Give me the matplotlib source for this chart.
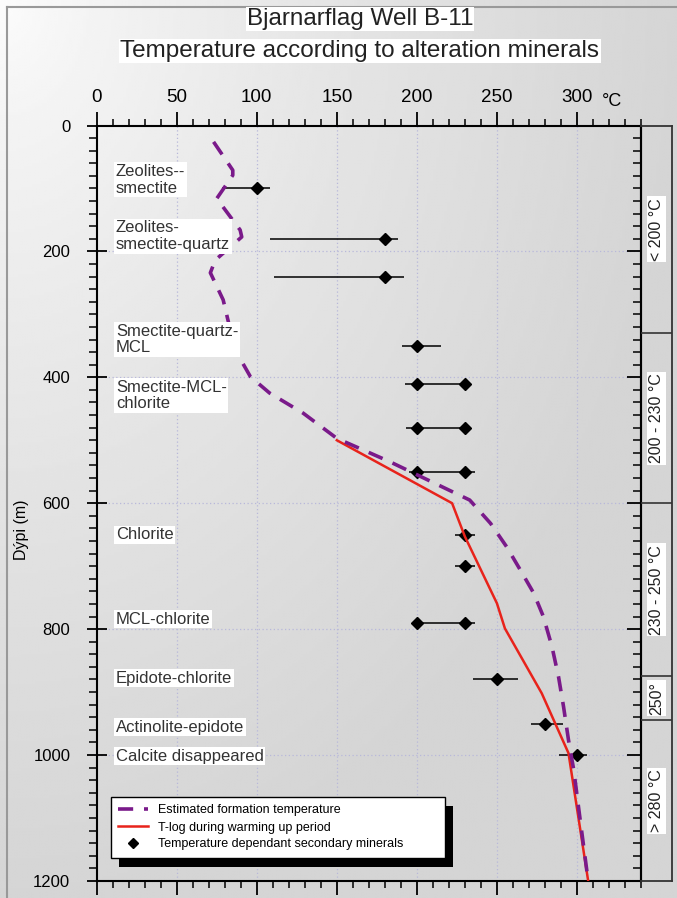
import numpy as np
import matplotlib
matplotlib.use("Agg")
import matplotlib.pyplot as plt
from matplotlib.lines import Line2D
from matplotlib.patches import Rectangle
from matplotlib.ticker import MultipleLocator

plt.rcParams['font.family'] = ['Liberation Sans', 'DejaVu Sans']

# ---------------- data ----------------
# Estimated formation temperature (dashed purple)
est_temp = [73, 85, 85, 75, 89.6, 90.6, 74, 71, 79, 83, 87.5, 96, 108, 129, 150, 183,
            233, 246, 256, 264.6, 273, 279, 284.4, 288.5, 291.6, 294.7, 298, 302, 307]
est_depth = [26, 71, 79, 116, 166, 177, 214, 234, 277, 320, 361, 399, 425, 457, 497, 534,
             595, 632, 669, 706, 743, 780, 828, 876, 923, 976, 1024, 1103, 1200]

# T-log during warming up period (red)
tlog_temp = [150, 222, 230, 250, 255, 278, 294.7, 307]
tlog_depth = [500, 600, 653, 759, 799, 902, 997, 1200]

# Temperature dependant secondary minerals (diamonds) with ranges
min_row_depth = [100, 180, 240, 350, 410, 480, 550, 650, 700, 790, 880, 950, 1000]
min_row_lo = [78, 108, 111, 191, 192.5, 193.5, 195, 224, 224, 198, 235, 271, 289]
min_row_hi = [108, 188, 192, 215, 234, 234, 236, 236, 236, 236, 263, 291.5, 306]
min_pt_depth = [100, 180, 240, 350, 410, 410, 480, 480, 550, 550, 650, 700, 790, 790, 880, 950, 1000]
min_pt_temp = [100, 180, 180, 200, 200, 230, 200, 230, 200, 230, 230, 230, 200, 230, 250, 280, 300]

# Mineral zone labels
zone_labels = ["Zeolites--\nsmectite", "Zeolites-\nsmectite-quartz", "Smectite-quartz-\nMCL",
               "Smectite-MCL-\nchlorite", "Chlorite", "MCL-chlorite", "Epidote-chlorite",
               "Actinolite-epidote", "Calcite disappeared"]
zone_label_depth = [86, 176, 340, 429, 650, 784, 878, 956, 1002]

# Temperature bands (right panel)
band_edges = [0, 330, 600, 875, 945, 1200]
band_labels = ["< 200 °C", "200 - 230 °C", "230 - 250 °C", "250°", "> 280 °C"]

x_ticks = [0, 50, 100, 150, 200, 250, 300]
y_ticks = [0, 200, 400, 600, 800, 1000, 1200]

legend_labels = ["Estimated formation temperature", "T-log during warming up period",
                 "Temperature dependant secondary minerals"]

# ---------------- figure ----------------
W, H = 677, 898
fig = plt.figure(figsize=(W / 100, H / 100), dpi=100)

# background gradient
bg = fig.add_axes([0, 0, 1, 1], zorder=-10)
yy, xx = np.mgrid[0:1:300j, 0:1:240j]
dist = np.sqrt((xx * 1.0) ** 2 + (yy * 1.0) ** 2)
val = 0.99 - 0.155 * np.clip(dist / 1.0, 0, 1) ** 0.75
bg.imshow(val, cmap='gray', vmin=0, vmax=1, aspect='auto', extent=[0, 1, 1, 0],
          interpolation='bilinear')
bg.set_xlim(0, 1)
bg.set_ylim(1, 0)
bg.axis('off')
# thin border of the picture
bg.plot([7 / W, 7 / W], [1, 7 / H], color='#999999', lw=1.5)
bg.plot([7 / W, 1], [7 / H, 7 / H], color='#999999', lw=1.5)

x0, x1 = 96.7, 641.0
ytop, ybot = 125.5, 880.9
ax = fig.add_axes([x0 / W, 1 - ybot / H, (x1 - x0) / W, (ybot - ytop) / H])
ax.patch.set_alpha(0)
ax.set_xlim(0, 340)
ax.set_ylim(1200, 0)

ax.xaxis.tick_top()
ax.set_xticks(x_ticks)
ax.xaxis.set_minor_locator(MultipleLocator(10))
ax.set_yticks(y_ticks)
ax.yaxis.set_minor_locator(MultipleLocator(20))
ax.tick_params(axis='x', which='both', top=True, bottom=True, labeltop=True,
               labelbottom=False, direction='out', labelsize=13.5, pad=4)
ax.tick_params(axis='x', which='major', length=10, width=1.3)
ax.tick_params(axis='x', which='minor', length=5, width=1.1)
ax.tick_params(axis='y', which='both', left=True, right=False, labelsize=12)
ax.tick_params(axis='y', which='major', direction='inout', length=14, width=1.3, pad=12)
ax.tick_params(axis='y', which='minor', direction='out', length=6, width=1.1)
for sp in ax.spines.values():
    sp.set_linewidth(1.5)
    sp.set_color('black')

sec = ax.secondary_yaxis('right')
sec.set_yticks(y_ticks)
sec.yaxis.set_minor_locator(MultipleLocator(20))
sec.tick_params(axis='y', which='both', direction='in', labelright=False)
sec.tick_params(axis='y', which='major', length=10, width=1.3)
sec.tick_params(axis='y', which='minor', length=6, width=1.1)
sec.spines['right'].set_linewidth(1.5)

# grid
for t in x_ticks[1:]:
    ax.axvline(t, color='#b8b8da', lw=0.9, ls=(0, (1, 2)), zorder=0)
for d in y_ticks[1:-1]:
    ax.axhline(d, color='#b8b8da', lw=0.9, ls=(0, (1, 2)), zorder=0)

# mineral ranges and points
ax.hlines(min_row_depth, min_row_lo, min_row_hi, color='black', lw=1.1, zorder=3)
ax.plot(min_pt_temp, min_pt_depth, ls='none', marker='D', ms=6.5, color='black', zorder=4)

# lines
ax.plot(tlog_temp, tlog_depth, color='#e8231b', lw=1.8, zorder=5)
ax.plot(est_temp, est_depth, color='#7a1a8a', lw=2.6, ls=(0, (4.2, 3.0)), zorder=6)

# zone labels
for lab, d in zip(zone_labels, zone_label_depth):
    ax.text(12, d, lab, fontsize=12, color='#333333', va='center', ha='left',
            linespacing=1.15, zorder=7,
            bbox=dict(boxstyle='square,pad=0.1', fc='white', ec='none'))

# top-axis unit
fig.text(612 / W, 1 - 101 / H, "°C", fontsize=13, ha='center', va='center')

# y label
fig.text(22 / W, 1 - 530 / H, "Dýpi (m)", fontsize=11.5, rotation=90,
         ha='center', va='center')

# titles
fig.text(360 / W, 1 - 19 / H, "Bjarnarflag Well B-11", fontsize=17.5, ha='center',
         va='center', color='#222222',
         bbox=dict(boxstyle='square,pad=0.05', fc='white', ec='none'))
fig.text(360 / W, 1 - 51 / H, "Temperature according to alteration minerals", fontsize=17.5,
         ha='center', va='center', color='#222222',
         bbox=dict(boxstyle='square,pad=0.05', fc='white', ec='none'))

# legend
handles = [Line2D([], [], color='#7a1a8a', lw=2.6, ls=(0, (4.2, 3.0))),
           Line2D([], [], color='#e8231b', lw=1.8),
           Line2D([], [], ls='none', marker='D', ms=5, color='black')]
ly0 = (ybot - 853) / (ybot - ytop)
ly1 = (ybot - 797) / (ybot - ytop)
lx0 = (110.7 - x0) / (x1 - x0)
lx1 = (445 - x0) / (x1 - x0)
leg = ax.legend(handles, legend_labels, loc='upper left',
                bbox_to_anchor=(lx0, ly0, lx1 - lx0, ly1 - ly0), mode='expand',
                borderaxespad=0, fontsize=9, handlelength=2.4, handletextpad=0.8,
                labelspacing=0.4, borderpad=0.6, fancybox=False, framealpha=1,
                edgecolor='black')
leg.get_frame().set_linewidth(1.0)
leg.set_zorder(10)

# right temperature band panel
bx0, bx1 = 641.0, 672.0
axb = fig.add_axes([bx0 / W, 1 - ybot / H, (bx1 - bx0) / W, (ybot - ytop) / H])
axb.patch.set_alpha(0)
axb.set_xlim(0, 1)
axb.set_ylim(1200, 0)
axb.set_xticks([])
axb.set_yticks([])
for sp in axb.spines.values():
    sp.set_linewidth(1.3)
    sp.set_color('#333333')
axb.spines['left'].set_visible(False)
for e in band_edges[1:-1]:
    axb.axhline(e, color='#333333', lw=1.2)
for i, lab in enumerate(band_labels):
    c = 0.5 * (band_edges[i] + band_edges[i + 1])
    axb.text(0.5, c, lab, rotation=90, fontsize=11.5, ha='center', va='center',
             color='#222222',
             bbox=dict(boxstyle='square,pad=0.1', fc='white', ec='none'))

fig.canvas.draw()
bb = leg.get_window_extent()
shadow = Rectangle((bb.x0 + 8, bb.y0 - 9), bb.width, bb.height, transform=None,
                   facecolor='black', edgecolor='none', zorder=9)
ax.add_artist(shadow)

fig.savefig("out.png", dpi=100)
